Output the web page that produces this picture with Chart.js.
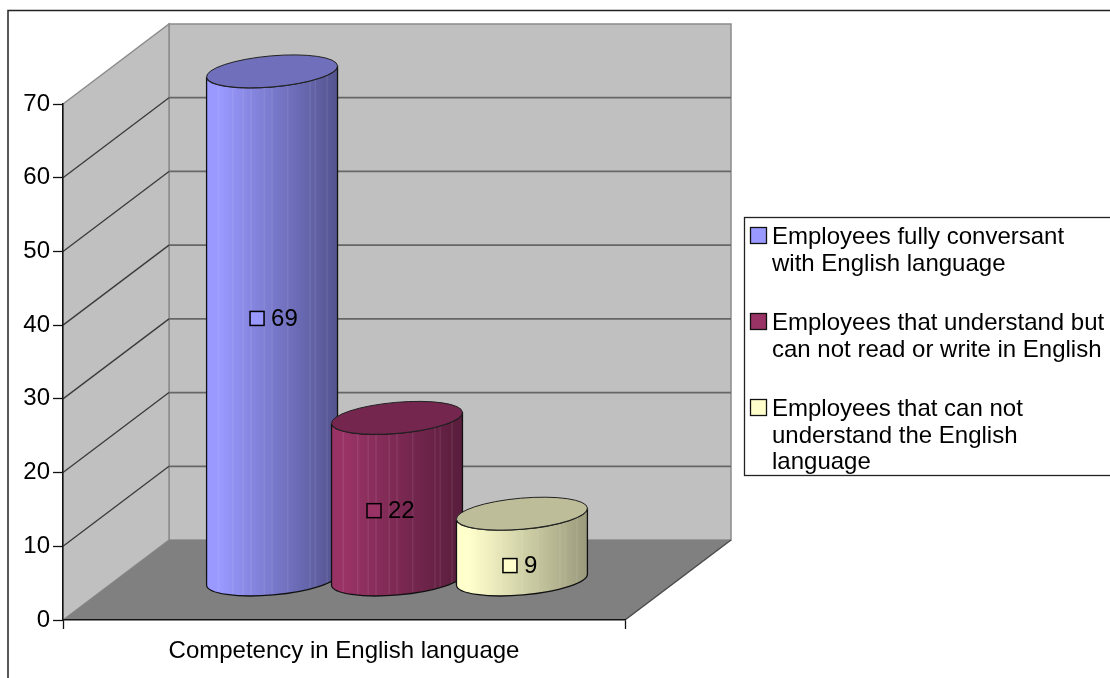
<!DOCTYPE html>
<html>
<head>
<meta charset="utf-8">
<title>Competency in English language</title>
<style>html,body{margin:0;padding:0;background:#fff}canvas{display:block}</style>
<script src="https://cdn.jsdelivr.net/npm/chart.js@4/dist/chart.umd.min.js"></script>
</head>
<body>
<canvas id="c" width="1110" height="678"></canvas>
<script>
const categories = ["Competency in English language"];
const seriesNames = [
  "Employees fully conversant with English language",
  "Employees that understand but can not read or write in English",
  "Employees that can not understand the English language"
];
const seriesValues = [[69], [22], [9]];
const yTicks = [0, 10, 20, 30, 40, 50, 60, 70];

const legendLines = [
  ["Employees fully conversant", "with English language"],
  ["Employees that understand but", "can not read or write in English"],
  ["Employees that can not", "understand the English", "language"]
];
const seriesColors = ["#9999FF", "#993366", "#FFFFCC"];
const sideDark = ["#53538F", "#591D3C", "#9A9A7C"];
const topColors = ["#6F6FBB", "#74264F", "#BDBD99"];
const labelOffsets = [[-15, -7], [-23, 12], [-12, 19]];
const FONT = '"Liberation Sans", Arial, sans-serif';
const DX = 106, DY = -80, TILT = -5 * Math.PI / 180;
const stripes = [.09, .2, .28, .34, .44, .5, .62, .79, .83, .92];

function line(ctx, pts, color, w) {
  ctx.beginPath();
  pts.forEach((p, i) => i ? ctx.lineTo(p[0], p[1]) : ctx.moveTo(p[0], p[1]));
  ctx.strokeStyle = color; ctx.lineWidth = w; ctx.stroke();
}
function poly(ctx, pts, fill, stroke, w) {
  ctx.beginPath();
  pts.forEach((p, i) => i ? ctx.lineTo(p[0], p[1]) : ctx.moveTo(p[0], p[1]));
  ctx.closePath();
  ctx.fillStyle = fill; ctx.fill();
  if (stroke) { ctx.strokeStyle = stroke; ctx.lineWidth = w; ctx.stroke(); }
}
function drawCylinder(ctx, bar, i) {
  const cx = bar.x + DX / 2, w = bar.width;
  const topY = bar.y + DY / 2, baseY = bar.base + DY / 2;
  const rx = w / 2 / Math.cos(TILT), ry = 15.5;
  const ex = w / 2, ey = rx * Math.sin(TILT);
  ctx.save();
  const side = new Path2D();
  side.moveTo(cx - ex, topY - ey);
  side.lineTo(cx - ex, baseY - ey);
  side.ellipse(cx, baseY, rx, ry, TILT, Math.PI, 0, true);
  side.lineTo(cx + ex, topY + ey);
  side.ellipse(cx, topY, rx, ry, TILT, 0, Math.PI, false);
  side.closePath();
  const g = ctx.createLinearGradient(cx - ex, 0, cx + ex, 0);
  g.addColorStop(0, seriesColors[i]);
  g.addColorStop(.1, seriesColors[i]);
  g.addColorStop(1, sideDark[i]);
  ctx.fillStyle = g; ctx.fill(side);
  ctx.save();
  ctx.clip(side);
  ctx.strokeStyle = "rgba(255,255,255,.08)"; ctx.lineWidth = 1.5;
  stripes.forEach(f => {
    const x = cx - ex + f * w;
    ctx.beginPath(); ctx.moveTo(x, topY - 40); ctx.lineTo(x, baseY + 40); ctx.stroke();
  });
  ctx.restore();
  ctx.strokeStyle = "#111"; ctx.lineWidth = 1.3; ctx.stroke(side);
  ctx.beginPath();
  ctx.ellipse(cx, topY, rx, ry, TILT, 0, Math.PI * 2);
  ctx.fillStyle = topColors[i]; ctx.fill();
  ctx.strokeStyle = "#222"; ctx.lineWidth = 1; ctx.stroke();
  ctx.restore();
}

const scene = {
  id: "scene",
  beforeDraw(chart) {
    const ctx = chart.ctx, a = chart.chartArea, y = chart.scales.y;
    const L = a.left, R = a.right, T = a.top, B = a.bottom;
    ctx.save();
    ctx.fillStyle = "#fff"; ctx.fillRect(0, 0, chart.width, chart.height);
    line(ctx, [[8, chart.height + 2], [8, 10.5], [chart.width + 2, 10.5]], "#222", 1.5);
    poly(ctx, [[L + DX, T + DY], [R + DX, T + DY], [R + DX, B + DY], [L + DX, B + DY]], "#C0C0C0", "#8C8C8C", 1.5);
    poly(ctx, [[L, T], [L + DX, T + DY], [L + DX, B + DY], [L, B]], "#C0C0C0", "#8C8C8C", 1.5);
    poly(ctx, [[L, B], [L + DX, B + DY], [R + DX, B + DY], [R, B]], "#808080", null, 0);
    line(ctx, [[R, B], [R + DX, B + DY]], "#4a4a4a", 1.5);
    yTicks.forEach(v => {
      if (v === 0 || v === 70) return;
      const p = y.getPixelForValue(v);
      line(ctx, [[L, p], [L + DX, p + DY]], "#3a3a3a", 1.3);
      line(ctx, [[L + DX, p + DY], [R + DX, p + DY]], "#666", 1.8);
    });
    ctx.restore();
  },
  beforeDatasetDraw() {
    return false;
  },
  afterDatasetsDraw(chart) {
    const ctx = chart.ctx;
    chart.data.datasets.forEach((ds, i) => drawCylinder(ctx, chart.getDatasetMeta(i).data[0], i));
    ctx.save();
    chart.data.datasets.forEach((ds, i) => {
      const bar = chart.getDatasetMeta(i).data[0];
      const mx = bar.x + DX / 2 + labelOffsets[i][0];
      const my = (bar.y + bar.base) / 2 + DY / 2 + labelOffsets[i][1];
      ctx.fillStyle = seriesColors[i];
      ctx.fillRect(mx - 7, my - 7, 14, 14);
      ctx.strokeStyle = "#000"; ctx.lineWidth = 1.5;
      ctx.strokeRect(mx - 7, my - 7, 14, 14);
      ctx.fillStyle = "#000"; ctx.font = "24px " + FONT;
      ctx.textAlign = "left"; ctx.textBaseline = "middle";
      ctx.fillText(String(ds.data[0]), mx + 14, my + 1);
    });
    // legend
    ctx.fillStyle = "#fff";
    ctx.fillRect(744, 217.5, 370, 258);
    ctx.strokeStyle = "#222"; ctx.lineWidth = 1.3;
    ctx.strokeRect(744.5, 217.5, 370, 258);
    const rows = [[236, 263], [322, 349], [408, 435, 461]];
    legendLines.forEach((lines, i) => {
      const s = rows[i][0] - 8.5;
      ctx.fillStyle = seriesColors[i];
      ctx.fillRect(750.5, s, 16, 16);
      ctx.strokeStyle = "#111"; ctx.lineWidth = 1.3;
      ctx.strokeRect(750.5, s, 16, 16);
      ctx.fillStyle = "#000"; ctx.font = "24px " + FONT;
      ctx.textAlign = "left"; ctx.textBaseline = "middle";
      lines.forEach((t, j) => ctx.fillText(t, 772, rows[i][j] + 1));
    });
    ctx.restore();
  }
};

new Chart(document.getElementById("c"), {
  type: "bar",
  data: {
    labels: categories,
    datasets: seriesNames.map((name, i) => ({
      label: name,
      data: seriesValues[i],
      backgroundColor: seriesColors[i],
      categoryPercentage: 0.667,
      barPercentage: 1.048
    }))
  },
  options: {
    responsive: false,
    animation: false,
    events: [],
    layout: { padding: { left: 8, right: 485, top: 104, bottom: 0 } },
    plugins: { legend: { display: false }, tooltip: { enabled: false }, title: { display: false } },
    scales: {
      x: {
        afterFit(s) { s.height = 58; },
        border: { color: "#111", width: 1.5 },
        grid: { drawOnChartArea: false, tickColor: "#111", tickLength: 9, tickWidth: 1.3 },
        ticks: { color: "#000", font: { family: FONT, size: 24 }, padding: 8, maxRotation: 0 }
      },
      y: {
        min: 0, max: 70,
        afterFit(s) { s.width = 55; },
        border: { color: "#111", width: 1.5 },
        grid: { drawOnChartArea: false, tickColor: "#111", tickLength: 10, tickWidth: 1.3 },
        ticks: { color: "#000", font: { family: FONT, size: 24 }, padding: 3, stepSize: 10 }
      }
    }
  },
  plugins: [scene]
});
</script>
</body>
</html>
